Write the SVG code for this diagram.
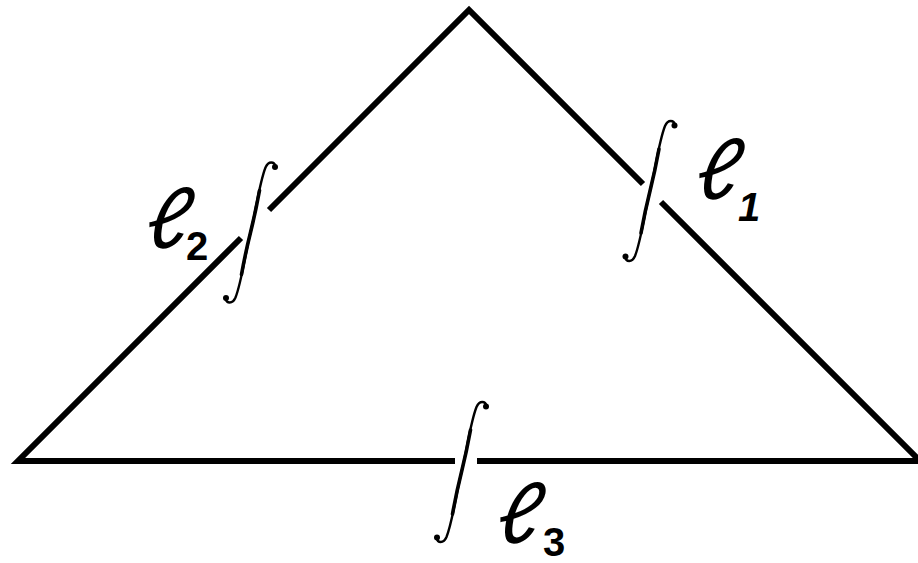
<svg xmlns="http://www.w3.org/2000/svg" width="918" height="563" viewBox="0 0 918 563">
<style>
.side{fill:none;stroke:#000;stroke-width:6;stroke-linejoin:miter;stroke-miterlimit:10}
.brk{fill:none;stroke:#000;stroke-width:2.4;stroke-linecap:round}
.stem{fill:none;stroke:#000;stroke-width:3.6;stroke-linecap:round}
.ell{font-family:Lato,"DejaVu Serif",serif;font-style:italic;font-weight:400;font-size:84px;fill:#000}
.sub{font-family:"Liberation Sans","DejaVu Sans",sans-serif;font-weight:bold;font-size:40px;fill:#000}
</style>
<defs>
<g id="integral">
<path class="brk" d="M25,-66 C24,-71 18,-72 15,-65 C9,-50 5,-20 0,0 C-5,20 -9,50 -15,65 C-18,72 -24,71 -25,66"/>
<path class="stem" d="M9,-42 C5,-20 2,-8 0,0 C-2,8 -5,20 -9,42"/>
<circle cx="24.5" cy="-65.5" r="3"/>
<circle cx="-24.5" cy="65.5" r="3"/>
</g>
</defs>
<rect width="918" height="563" fill="#fff"/>
<g id="triangle">
<path class="side" d="M269,210 L469,10 L643,184"/>
<path class="side" d="M661,202 L920,461 L477,461"/>
<path class="side" d="M455,461 L18,461 L241,238"/>
</g>
<g id="breaks">
<use href="#integral" transform="translate(250.5,232.5)"/>
<use href="#integral" transform="translate(650,191)"/>
<use href="#integral" transform="translate(461.5,472)"/>
</g>
<g id="label-l2">
<text class="ell" transform="translate(143,248) skewX(-10)">ℓ</text>
<text class="sub" x="186" y="260">2</text>
</g>
<g id="label-l1">
<text class="ell" transform="translate(693,199) skewX(-10)">ℓ</text>
<text class="sub" x="738" y="221" font-style="italic">1</text>
</g>
<g id="label-l3">
<text class="ell" transform="translate(494,543) skewX(-10)">ℓ</text>
<text class="sub" x="543" y="556">3</text>
</g>
</svg>
